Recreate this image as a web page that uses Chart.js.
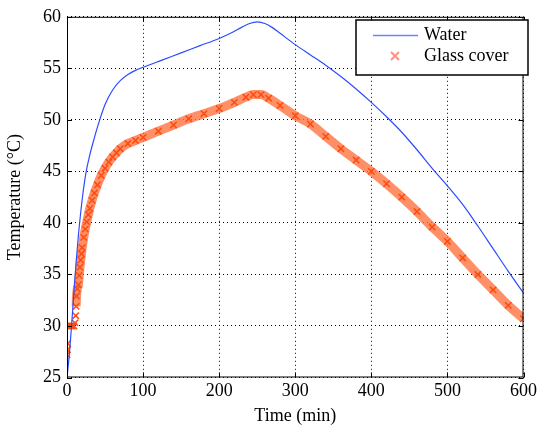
<!DOCTYPE html>
<html>
<head>
<meta charset="utf-8">
<script src="https://cdn.jsdelivr.net/npm/chart.js@4.4.0/dist/chart.umd.min.js"></script>
<style>
html, body { margin: 0; padding: 0; background: #fff; }
#wrap { width: 540px; height: 431px; }
</style>
</head>
<body>
<div id="wrap"><canvas id="tempChart" width="540" height="431"></canvas></div>
<script>
// Water temperature (blue line)
const waterTime = [0, 3, 6, 9, 12, 15, 20, 25, 30, 35, 40, 50, 60, 70, 80, 90, 100, 125, 150, 175,
  200, 215, 230, 240, 250, 260, 270, 280, 300, 320, 340, 360, 380, 400, 420, 440, 460, 480, 500,
  520, 540, 560, 580, 600];
const waterTemp = [25.0, 27.2, 30.0, 33.2, 36.2, 38.8, 42.3, 44.9, 46.6, 48.0, 49.3, 51.5, 52.9, 53.8,
  54.4, 54.8, 55.1, 55.8, 56.5, 57.2, 57.9, 58.4, 59.0, 59.35, 59.5, 59.35, 58.95, 58.4, 57.3, 56.3,
  55.3, 54.2, 53.0, 51.7, 50.3, 48.8, 47.1, 45.3, 43.6, 41.8, 39.7, 37.5, 35.3, 33.2];

// Glass cover temperature (orange x markers)
const glassTime = [0, 0.5, 1, 2, 3, 5, 7, 9, 10.5, 11.5, 12, 12.5, 13.5, 15, 16, 17, 18, 19, 20, 22,
  24, 26, 28, 30, 33, 36, 40, 45, 50, 55, 60, 65, 70, 80, 90, 100, 120, 140, 160, 180, 200, 220,
  235, 245, 255, 265, 280, 300, 320, 340, 360, 380, 400, 420, 440, 460, 480, 500, 520, 540, 560,
  580, 600];
const glassTemp = [27.2, 27.7, 28.3, 30.0, 30.0, 30.0, 30.0, 30.0, 30.3, 31.0, 31.9, 32.9, 33.6, 34.0,
  34.9, 35.7, 36.4, 37.0, 37.6, 38.6, 39.4, 40.1, 40.8, 41.4, 42.2, 42.9, 43.7, 44.6, 45.3, 45.9,
  46.4, 46.8, 47.2, 47.7, 48.0, 48.3, 48.9, 49.5, 50.1, 50.6, 51.1, 51.7, 52.2, 52.45, 52.45, 52.1,
  51.4, 50.4, 49.6, 48.4, 47.2, 46.1, 45.0, 43.8, 42.5, 41.1, 39.6, 38.2, 36.6, 35.0, 33.5, 32.0,
  30.7];

const xTicks = [0, 100, 200, 300, 400, 500, 600];
const yTicks = [25, 30, 35, 40, 45, 50, 55, 60];

const seriesNames = ['Water', 'Glass cover'];

const waterColor = 'rgb(45, 75, 255)';
const glassColor = 'rgb(255, 75, 15)';

const toXY = (xs, ys) => xs.map((v, i) => ({ x: v, y: ys[i] }));

// frame, inward ticks and boxed legend drawn like the MATLAB figure
const framePlugin = {
  id: 'frame',
  afterDraw(chart) {
    const { ctx, chartArea: a, scales: { x, y } } = chart;
    ctx.save();
    ctx.strokeStyle = '#000';
    ctx.lineWidth = 1;
    ctx.strokeRect(a.left + 0.5, a.top + 0.5, a.right - a.left - 1, a.bottom - a.top - 1);
    ctx.beginPath();
    xTicks.forEach(v => {
      const px = Math.round(x.getPixelForValue(v)) + 0.5;
      ctx.moveTo(px, a.bottom); ctx.lineTo(px, a.bottom - 5);
      ctx.moveTo(px, a.top); ctx.lineTo(px, a.top + 5);
    });
    yTicks.forEach(v => {
      const py = Math.round(y.getPixelForValue(v)) + 0.5;
      ctx.moveTo(a.left, py); ctx.lineTo(a.left + 5, py);
      ctx.moveTo(a.right, py); ctx.lineTo(a.right - 5, py);
    });
    ctx.stroke();

    // legend box
    const bx = 356, by = 20, bw = 172, bh = 55;
    ctx.fillStyle = '#fff';
    ctx.fillRect(bx, by, bw, bh);
    ctx.lineWidth = 1.5;
    ctx.strokeRect(bx, by, bw, bh);

    ctx.strokeStyle = 'rgb(110, 130, 255)';
    ctx.lineWidth = 1.5;
    ctx.beginPath();
    ctx.moveTo(373, 35.5); ctx.lineTo(418, 35.5);
    ctx.stroke();

    ctx.strokeStyle = 'rgba(255, 110, 90, 0.75)';
    ctx.lineWidth = 2;
    ctx.beginPath();
    ctx.moveTo(391, 52); ctx.lineTo(399, 60);
    ctx.moveTo(399, 52); ctx.lineTo(391, 60);
    ctx.stroke();

    ctx.fillStyle = '#000';
    ctx.font = '18px "Liberation Serif"';
    ctx.textBaseline = 'middle';
    ctx.textAlign = 'left';
    ctx.fillText(seriesNames[0], 424, 35);
    ctx.fillText(seriesNames[1], 424, 56);
    ctx.restore();
  }
};

const ctx = document.getElementById('tempChart').getContext('2d');
new Chart(ctx, {
  type: 'scatter',
  data: {
    datasets: [
      {
        label: seriesNames[0],
        data: toXY(waterTime, waterTemp),
        showLine: true,
        borderColor: waterColor,
        borderWidth: 1.2,
        pointRadius: 0,
        cubicInterpolationMode: 'monotone',
        order: 1
      },
      {
        label: seriesNames[1],
        data: toXY(glassTime, glassTemp),
        showLine: true,
        borderColor: 'rgba(255, 115, 65, 0.8)',
        borderWidth: 9,
        segment: {
          borderColor: c => c.p1.parsed.x <= 12 ? 'rgba(0,0,0,0)' : undefined
        },
        cubicInterpolationMode: 'monotone',
        pointStyle: 'crossRot',
        pointRadius: 4.5,
        pointBorderColor: glassColor,
        pointBorderWidth: 1.5,
        order: 2
      }
    ]
  },
  options: {
    responsive: false,
    animation: false,
    layout: { padding: { top: 10, right: 12, left: 0, bottom: 0 } },
    plugins: {
      legend: { display: false },
      tooltip: { enabled: false }
    },
    scales: {
      x: {
        type: 'linear',
        min: 0,
        max: 600,
        afterBuildTicks: s => { s.ticks = xTicks.map(v => ({ value: v })); },
        afterFit: s => { s.height = 53.5; },
        grid: { color: '#000', lineWidth: 1, drawTicks: false },
        border: { display: false, dash: [1, 3] },
        ticks: { color: '#000', padding: 3, font: { family: 'Liberation Serif', size: 18 } },
        title: {
          display: true,
          text: 'Time (min)',
          color: '#000',
          padding: { top: 4 },
          font: { family: 'Liberation Serif', size: 18 }
        }
      },
      y: {
        type: 'linear',
        min: 25,
        max: 60,
        afterBuildTicks: s => { s.ticks = yTicks.map(v => ({ value: v })); },
        afterFit: s => { s.width = 67; },
        grid: { color: '#000', lineWidth: 1, drawTicks: false },
        border: { display: false, dash: [1, 3] },
        ticks: { color: '#000', padding: 6, font: { family: 'Liberation Serif', size: 18 } },
        title: {
          display: true,
          text: 'Temperature (\u00b0C)',
          color: '#000',
          padding: { bottom: 2 },
          font: { family: 'Liberation Serif', size: 18 }
        }
      }
    }
  },
  plugins: [framePlugin]
});
</script>
</body>
</html>
